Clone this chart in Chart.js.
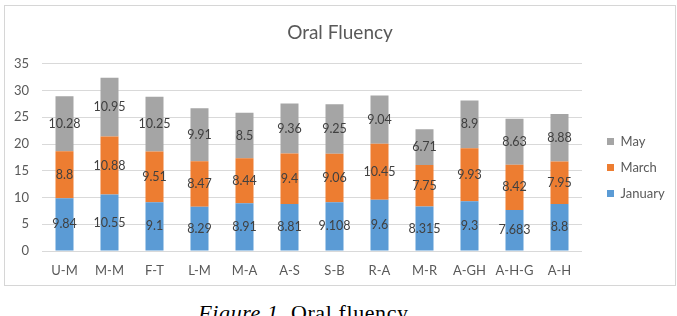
<!DOCTYPE html>
<html>
<head>
<meta charset="utf-8">
<script src="https://cdn.jsdelivr.net/npm/chart.js@4/dist/chart.umd.min.js"></script>
<style>
    html, body { margin: 0; padding: 0; background: #fff; overflow: hidden; }
    body { width: 677px; height: 316px; position: relative; }
    #box {
        position: absolute; left: 4px; top: 5px; width: 670px; height: 279px;
        border: 1px solid #d6d6d6;
    }
    #caption {
        position: absolute; left: 0; width: 607px; top: 300px; text-align: center;
        font-family: "Liberation Serif", "DejaVu Serif", serif; font-size: 22px; color: #000;
        letter-spacing: 0.6px; white-space: nowrap;
    }
</style>
</head>
<body>
<div id="box"><canvas id="fluencyChart" width="670" height="279"></canvas></div>
<div id="caption"><i>Figure 1.</i> Oral fluency</div>
<script>
var categories = ['U-M', 'M-M', 'F-T', 'L-M', 'M-A', 'A-S', 'S-B', 'R-A', 'M-R', 'A-GH', 'A-H-G', 'A-H'];
var january = [9.84, 10.55, 9.1, 8.29, 8.91, 8.81, 9.108, 9.6, 8.315, 9.3, 7.683, 8.8];
var march = [8.8, 10.88, 9.51, 8.47, 8.44, 9.4, 9.06, 10.45, 7.75, 9.93, 8.42, 7.95];
var may = [10.28, 10.95, 10.25, 9.91, 8.5, 9.36, 9.25, 9.04, 6.71, 8.9, 8.63, 8.88];
var yTicks = [0, 5, 10, 15, 20, 25, 30, 35];

var textColor = '#595959';
var fontName = 'Lato';

// draws the value in the middle of each stacked segment
var segmentLabels = {
    id: 'segmentLabels',
    afterDatasetsDraw: function(chart) {
        var ctx = chart.ctx;
        ctx.save();
        ctx.font = '12.5px ' + fontName;
        ctx.fillStyle = '#404040';
        ctx.textAlign = 'center';
        ctx.textBaseline = 'middle';
        chart.data.datasets.forEach(function(ds, i) {
            var meta = chart.getDatasetMeta(i);
            meta.data.forEach(function(bar, j) {
                ctx.fillText(String(ds.data[j]), bar.x, (bar.y + bar.base) / 2);
            });
        });
        ctx.restore();
    }
};

// keep the legend column a fixed width and move it where Excel puts it
var legendPlace = {
    id: 'legendPlace',
    beforeLayout: function(chart) {
        var lg = chart.legend;
        if (lg && !lg._fixed) {
            var fit = lg.fit;
            lg.fit = function() {
                fit.call(this);
                this.width = 93;
            };
            lg._fixed = true;
        }
    },
    afterLayout: function(chart) {
        var lg = chart.legend;
        var w = lg.width;
        lg.left = chart.chartArea.right + 12;
        lg.right = lg.left + w;
        lg.top += 10;
        lg.bottom += 10;
    }
};

var ctx = document.getElementById('fluencyChart');

var fluencyChart = new Chart(ctx, {
    type: 'bar',
    data: {
        labels: categories,
        datasets: [{
            label: 'January',
            data: january,
            backgroundColor: '#5b9bd5'
        }, {
            label: 'March',
            data: march,
            backgroundColor: '#ed7d31'
        }, {
            label: 'May',
            data: may,
            backgroundColor: '#a5a5a5'
        }]
    },
    options: {
        responsive: false,
        animation: false,
        events: [],
        layout: { padding: 0 },
        datasets: {
            bar: { categoryPercentage: 1, barPercentage: 0.4 }
        },
        scales: {
            x: {
                stacked: true,
                grid: { display: false, drawTicks: false },
                border: { display: false },
                ticks: { color: textColor, font: { family: fontName, size: 13 }, padding: 12 },
                afterFit: function(scale) { scale.height = 34; }
            },
            y: {
                stacked: true,
                min: 0,
                max: 35,
                grid: { color: '#d9d9d9', drawTicks: false },
                border: { display: false },
                afterBuildTicks: function(scale) {
                    scale.ticks = yTicks.map(function(v) { return { value: v }; });
                },
                ticks: { color: textColor, font: { family: fontName, size: 13 }, padding: 13 },
                afterFit: function(scale) { scale.width = 37; }
            }
        },
        plugins: {
            title: {
                display: true,
                text: 'Oral Fluency',
                color: textColor,
                font: { family: fontName, size: 19, weight: 'normal' },
                padding: { top: 15, bottom: 20 }
            },
            legend: {
                position: 'right',
                fullSize: false,
                reverse: true,
                labels: {
                    color: textColor,
                    font: { family: fontName, size: 13 },
                    boxWidth: 7,
                    boxHeight: 7,
                    padding: 13
                }
            },
            tooltip: { enabled: false }
        }
    },
    plugins: [segmentLabels, legendPlace]
});
</script>
</body>
</html>
